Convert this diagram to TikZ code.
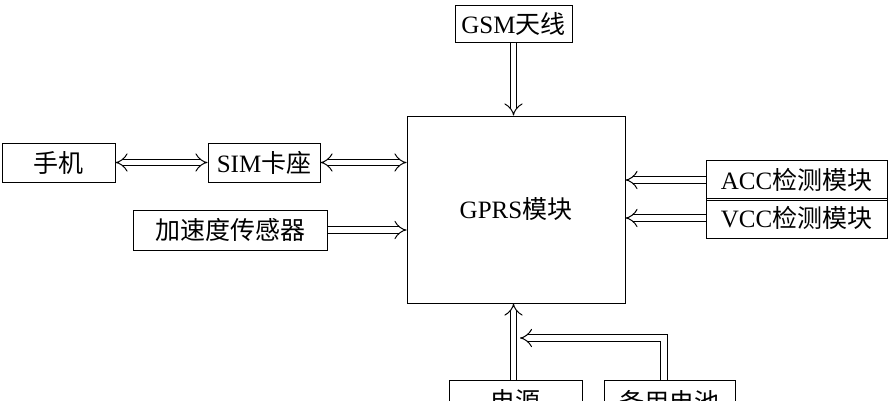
\documentclass[tikz,border=0pt]{standalone}
\usepackage{fontspec}
\setmainfont{Liberation Serif}
\newfontfamily\cjk{Noto Sans CJK SC}
\usetikzlibrary{arrows.meta}
\begin{document}
\begin{tikzpicture}[x=1pt,y=-1pt,
  blk/.style={draw,line width=1pt,inner sep=0pt,font=\fontsize{25}{27}\selectfont},
  dbl/.style={line width=1pt,double=white,double distance=5.5pt},
  one/.style={dbl,-{Implies[length=8pt]}},
  two/.style={dbl,{Implies[length=8pt]}-{Implies[length=8pt]}}]
\useasboundingbox (0,0) rectangle (890,400);
\clip (0,0) rectangle (890,400);
\node[blk,minimum width=218,minimum height=187] (gprs) at (516,209.5) {GPRS\cjk 模块};
\node[blk,minimum width=117,minimum height=37] (gsm) at (513.5,23.5) {GSM\cjk 天线};
\node[blk,minimum width=113,minimum height=39] (phone) at (58.5,162.5) {\cjk 手机};
\node[blk,minimum width=112,minimum height=39] (sim) at (264,162.5) {SIM\cjk 卡座};
\node[blk,minimum width=194,minimum height=40] (acc) at (230,230) {\cjk 加速度传感器};
\node[blk,minimum width=181,minimum height=40] (accd) at (796.5,180) {ACC\cjk 检测模块};
\node[blk,minimum width=181,minimum height=40] (vcc) at (796.5,218) {VCC\cjk 检测模块};
\node[blk,minimum width=133,minimum height=40,anchor=north,text depth=-8pt] (pwr) at (515.5,380) {\cjk 电源};
\node[blk,minimum width=131,minimum height=40,anchor=north,text depth=-8pt] (bat) at (669.5,380) {\cjk 备用电池};
\draw[one] (gsm.south) -- (gsm.south |- gprs.north);
\draw[two] (phone.east) -- (sim.west);
\draw[two] (sim.east) -- (sim.east -| gprs.west);
\draw[one] (acc.east) -- (acc.east -| gprs.west);
\draw[one] (accd.west) -- (accd.west -| gprs.east);
\draw[one] (vcc.west) -- (vcc.west -| gprs.east);
\draw[one] (pwr.north -| gsm.south) -- (gsm.south |- gprs.south);
\coordinate (c) at (664,338);
\draw[one] (bat.north -| c) -- (c) -- (520,338);
\end{tikzpicture}
\end{document}
